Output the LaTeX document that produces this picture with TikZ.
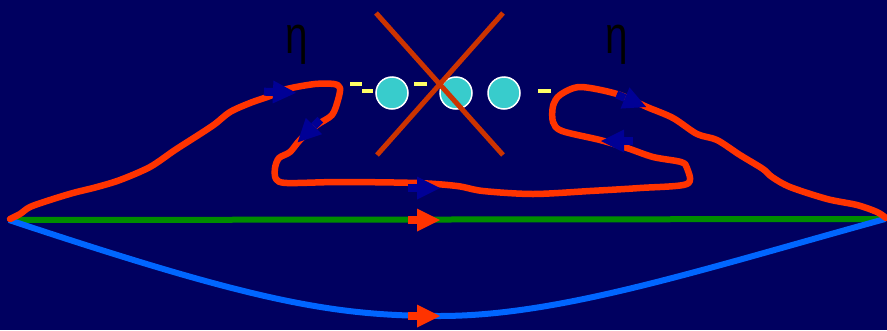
\documentclass[tikz,border=0pt]{standalone}
\usepackage{fontspec}
\setmainfont{Liberation Sans}
\definecolor{bg}{RGB}{0,0,96}
\definecolor{loopred}{RGB}{255,51,0}
\definecolor{xred}{RGB}{204,51,0}
\definecolor{lgreen}{RGB}{0,140,0}
\definecolor{lblue}{RGB}{0,102,255}
\definecolor{navy}{RGB}{0,0,150}
\definecolor{cyanball}{RGB}{56,204,204}
\definecolor{dashyel}{RGB}{255,255,102}
\tikzset{
  marker/.pic={\fill[pic actions] (-9,-4) rectangle (0,4); \fill[pic actions] (0,-11.5) -- (23,0) -- (0,11.5) -- cycle;},
  ball/.style={circle, fill=cyanball, draw=white, line width=1.5pt, minimum size=32pt, inner sep=0pt},
  yeldash/.style={dashyel, line width=4pt},
  etalabel/.style={text=black, font=\fontsize{44}{44}\selectfont, anchor=base, inner sep=0pt},
}
\newcommand{\etaglyph}{\scalebox{0.92}[1.2]{η}}
\begin{document}
\begin{tikzpicture}[x=1pt,y=-1pt]
\fill[bg] (0,0) rectangle (887,330);
\useasboundingbox (0,0) rectangle (887,330);
% base lines
\coordinate (L) at (9,220);
\coordinate (R) at (885,219);
\draw[lgreen, line width=6pt] (L) -- (R);
\draw[lblue, line width=6pt] (L) .. controls (250,300) and (330,316) .. (440,316) .. controls (560,316) and (700,270) .. (R);
% red loop
\draw[loopred, line width=6.5pt, line join=round, line cap=round] plot[smooth, tension=0.5] coordinates {
 (10,219) (20,214) (30,207) (50,200) (73,193) (97,187) (120,180) (150,167) (175,150) (200,134) (215,124) (230,112) (250,103) (270,96) (287,89) (315,84) (334,84) (340,88) (338,100) (332,115) (317,125) (300,140) (290,152) (279,158) (275,168) (276,179) (287,183) (340,182) (417,183) (457,186) (483,191) (533,194) (590,191) (640,188) (687,184) (687,168) (681,162) (653,157) (627,148) (600,140) (562,131) (553,122) (553,106) (560,95) (580,87) (617,94) (647,107) (673,118) (697,134) (717,140) (740,155) (763,169) (772,177) (790,187) (827,199) (857,205) (877,212) (886,218)};
% arrow markers
\pic[fill=loopred] at (417,220) {marker};
\pic[fill=loopred] at (417,316) {marker};
\pic[fill=navy] at (417,188) {marker};
\pic[fill=navy, rotate=-2] at (273,92) {marker};
\pic[fill=navy, rotate=-135] at (314,126) {marker};
\pic[fill=navy, rotate=-23] at (625,98) {marker};
\pic[fill=navy, rotate=180] at (624,141) {marker};
% balls and dashes
\node[ball] (b1) at (392,93) {};
\node[ball] (b2) at (456,93) {};
\node[ball] (b3) at (504,93) {};
\draw[yeldash] (350,84) -- (362,84);
\draw[yeldash] (362,91) -- (373,91);
\draw[yeldash] (414,84) -- (427,84);
\draw[yeldash] (538,91) -- (551,91);
% cross
\draw[xred, line width=5pt] (376,13) -- (503,155);
\draw[xred, line width=5pt] (503,13) -- (377,155);
% labels
\node[etalabel] (eta1) at (297,53) {\etaglyph};
\node[etalabel] (eta2) at (617,53) {\etaglyph};
\end{tikzpicture}
\end{document}
